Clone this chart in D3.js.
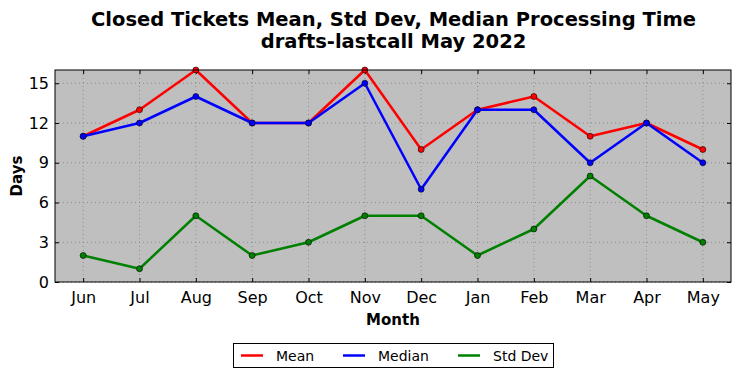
<!DOCTYPE html>
<html><head><meta charset="utf-8">
<script src="https://cdn.jsdelivr.net/npm/d3@7"></script>
<style>body{margin:0;background:#fff}svg{display:block;font-family:"DejaVu Sans",sans-serif}</style>
</head><body>
<svg id="c" width="741" height="378"></svg>
<script>
const months = ["Jun","Jul","Aug","Sep","Oct","Nov","Dec","Jan","Feb","Mar","Apr","May"];
const meanVals = [11,13,16,12,12,16,10,13,14,11,12,10];
const medianVals = [11,12,14,12,12,15,7,13,13,9,12,9];
const stdVals = [2,1,5,2,3,5,5,2,4,8,5,3];
const yTicks = [0,3,6,9,12,15];
const seriesNames = ["Mean","Median","Std Dev"];
const seriesColors = ["#ff0000","#0000ff","#008000"];

const svg = d3.select("#c");
const L=55,R=731,T=70,B=282;
const x = d3.scalePoint().domain(months).range([L,R]).padding(0.5);
const y = d3.scaleLinear().domain([0,16]).range([B,T]);

svg.append("rect").attr("x",L).attr("y",T).attr("width",R-L).attr("height",B-T).attr("fill","#bfbfbf");

// grid
const g = svg.append("g");
months.forEach(m=>g.append("line").attr("x1",x(m)).attr("x2",x(m)).attr("y1",T).attr("y2",B)
  .attr("stroke","#808080").attr("stroke-width",0.8).attr("stroke-dasharray","1,3"));
yTicks.forEach(v=>g.append("line").attr("x1",L).attr("x2",R).attr("y1",y(v)).attr("y2",y(v))
  .attr("stroke","#808080").attr("stroke-width",0.8).attr("stroke-dasharray","1,3"));

// axes
const ax = svg.append("g").attr("transform",`translate(0,${B})`)
  .call(d3.axisBottom(x).tickSizeInner(-4).tickSizeOuter(0).tickPadding(10));
const ay = svg.append("g").attr("transform",`translate(${L},0)`)
  .call(d3.axisLeft(y).tickValues(yTicks).tickSizeInner(-4).tickSizeOuter(0).tickPadding(6));
const at = svg.append("g").attr("transform",`translate(0,${T})`)
  .call(d3.axisTop(x).tickSizeInner(-4).tickSizeOuter(0).tickFormat(""));
const ar = svg.append("g").attr("transform",`translate(${R},0)`)
  .call(d3.axisRight(y).tickValues(yTicks).tickSizeInner(-4).tickSizeOuter(0).tickFormat(""));
[ax,ay,at,ar].forEach(a=>{a.select(".domain").remove();a.selectAll("line").attr("stroke","#000");
  a.selectAll("text").attr("font-size",16).attr("fill","#000").attr("font-family","DejaVu Sans");});

// series
const all = [meanVals, medianVals, stdVals];
const line = d3.line().x((d,i)=>x(months[i])).y(d=>y(d));
all.forEach((vals,k)=>{
  svg.append("path").datum(vals).attr("d",line).attr("fill","none")
    .attr("stroke",seriesColors[k]).attr("stroke-width",2.5).attr("stroke-linejoin","round");
  svg.selectAll(null).data(vals).enter().append("circle")
    .attr("cx",(d,i)=>x(months[i])).attr("cy",d=>y(d)).attr("r",3)
    .attr("fill",seriesColors[k]).attr("stroke","#000").attr("stroke-width",0.6);
});

svg.append("rect").attr("x",L).attr("y",T).attr("width",R-L).attr("height",B-T)
  .attr("fill","none").attr("stroke","#000").attr("stroke-width",1);

// titles
svg.append("text").attr("x",393.5).attr("y",26).attr("text-anchor","middle").attr("font-weight","bold")
  .attr("font-size",19.5).text("Closed Tickets Mean, Std Dev, Median Processing Time");
svg.append("text").attr("x",393.5).attr("y",47.5).attr("text-anchor","middle").attr("font-weight","bold")
  .attr("font-size",19.5).text("drafts-lastcall May 2022");
svg.append("text").attr("x",393).attr("y",325).attr("text-anchor","middle").attr("font-weight","bold")
  .attr("font-size",15).text("Month");
svg.append("text").attr("transform","translate(22,176) rotate(-90)").attr("text-anchor","middle")
  .attr("font-weight","bold").attr("font-size",15).text("Days");

// legend
const lg = svg.append("g");
lg.append("rect").attr("x",233.5).attr("y",343.5).attr("width",320).attr("height",24)
  .attr("fill","#fff").attr("stroke","#000").attr("stroke-width",1);
const lx = [241,343,458];
seriesNames.forEach((n,k)=>{
  lg.append("line").attr("x1",lx[k]).attr("x2",lx[k]+22).attr("y1",355.5).attr("y2",355.5)
    .attr("stroke",seriesColors[k]).attr("stroke-width",2.5);
  lg.append("text").attr("x",lx[k]+35).attr("y",360.5).attr("font-size",14).text(n);
});
</script>
</body></html>
